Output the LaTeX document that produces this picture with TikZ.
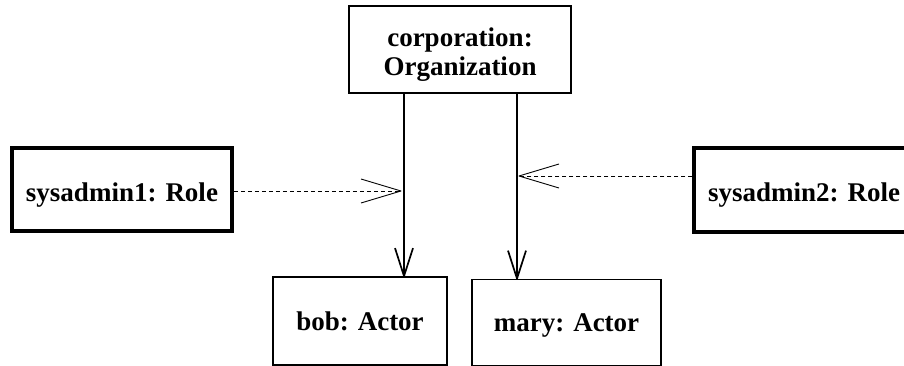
\documentclass[tikz,border=0pt]{standalone}
\usepackage{fontspec}
\setmainfont{Liberation Serif}
\usetikzlibrary{arrows.meta}
\pgfdeclarearrow{
  name = OpenVee,
  parameters = {\the\pgfarrowlength,\the\pgfarrowwidth},
  setup code = {
    \pgfarrowssettipend{0pt}
    \pgfarrowssetlineend{-0.5\pgflinewidth}
    \pgfarrowssetbackend{-\pgfarrowlength}
    \pgfarrowsupperhullpoint{-\pgfarrowlength}{.5\pgfarrowwidth}
    \pgfarrowsupperhullpoint{0pt}{0pt}
    \pgfarrowssavethe\pgfarrowlength
    \pgfarrowssavethe\pgfarrowwidth
  },
  drawing code = {
    \pgfsetdash{}{0pt}
    \pgfsetroundjoin
    \pgfpathmoveto{\pgfqpoint{-\pgfarrowlength}{.5\pgfarrowwidth}}
    \pgfpathlineto{\pgfqpoint{0pt}{0pt}}
    \pgfpathlineto{\pgfqpoint{-\pgfarrowlength}{-.5\pgfarrowwidth}}
    \pgfusepathqstroke
  },
  defaults = {length=10pt, width=8pt}
}
\begin{document}
\begin{tikzpicture}[x=1pt,y=-1pt,
  every node/.style={font=\bfseries\fontsize{27}{29}\selectfont, inner sep=0pt},
  objbox/.style={draw, line width=1.8pt, fill=white},
  rolebox/.style={draw, line width=3.5pt, fill=white, text height=23pt, text depth=0pt},
  actorbox/.style={objbox, text height=18pt, text depth=0pt},
  link/.style={line width=1.7pt, -{OpenVee[length=28pt,width=18pt]}},
  dep/.style={line width=0.9pt, dash pattern=on 4pt off 3pt, -{OpenVee[length=40pt,width=24pt, line width=1.2pt]}}
]
\useasboundingbox[fill=white] (0,0) rectangle (904,366);
\node[objbox, minimum width=222pt, minimum height=87pt] (corp) at (460,49.5)
  {\raisebox{0pt}[0pt][5.6pt]{\begin{tabular}[t]{@{}c@{}}corporation:\\Organization\end{tabular}}};
\node[rolebox, minimum width=220pt, minimum height=83pt] (s1) at (122,189.5) {sysadmin1: Role};
\node[rolebox, minimum width=220pt, minimum height=84pt] (s2) at (804,190) {sysadmin2: Role};
\node[actorbox, minimum width=174pt, minimum height=88pt] (bob) at (360,321) {bob: Actor};
\node[actorbox, minimum width=189pt, minimum height=86pt] (mary) at (566.5,322.5) {mary: Actor};
\coordinate (a1) at (404,0);
\coordinate (a2) at (517,0);
\coordinate (d1) at (401,191);
\coordinate (d2) at (519,176);
\draw[link] (corp.south -| a1) -- (bob.north -| a1);
\draw[link] (corp.south -| a2) -- (mary.north -| a2);
\draw[dep] (s1.east |- d1) -- (d1);
\draw[dep] (s2.west |- d2) -- (d2);
\end{tikzpicture}
\end{document}
